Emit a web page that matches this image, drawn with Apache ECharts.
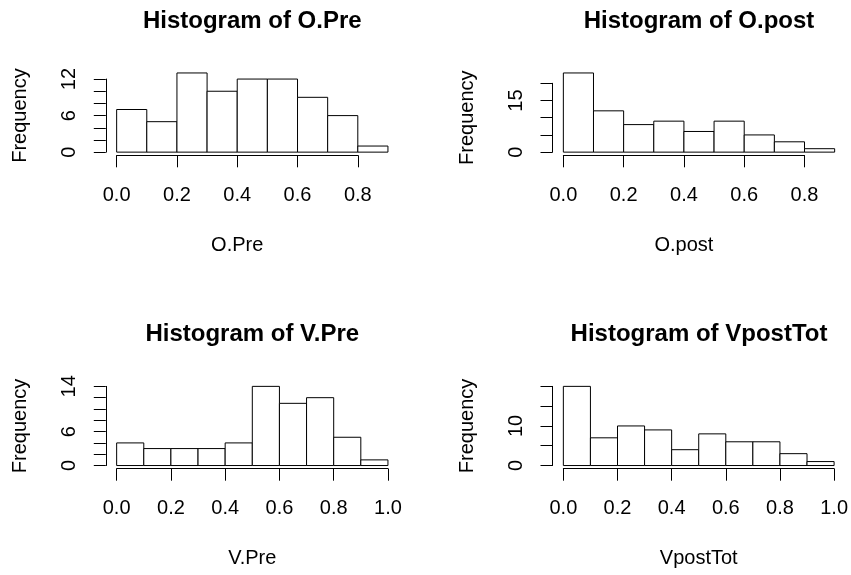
<!DOCTYPE html>
<html><head><meta charset="utf-8">
<script src="https://cdn.jsdelivr.net/npm/echarts@6/dist/echarts.min.js"></script>
<style>html,body{margin:0;padding:0;background:#fff}#c{width:851px;height:575px}</style>
</head><body><div id="c"></div>
<script>
// ---- data ----
const oPreBreaks = [0, 0.1, 0.2, 0.3, 0.4, 0.5, 0.6, 0.7, 0.8, 0.9];
const oPreCounts = [7, 5, 13, 10, 12, 12, 9, 6, 1];
const oPostBreaks = [0, 0.1, 0.2, 0.3, 0.4, 0.5, 0.6, 0.7, 0.8, 0.9];
const oPostCounts = [23, 12, 8, 9, 6, 9, 5, 3, 1];
const vPreBreaks = [0, 0.1, 0.2, 0.3, 0.4, 0.5, 0.6, 0.7, 0.8, 0.9, 1.0];
const vPreCounts = [4, 3, 3, 3, 4, 14, 11, 12, 5, 1];
const vPostTotBreaks = [0, 0.1, 0.2, 0.3, 0.4, 0.5, 0.6, 0.7, 0.8, 0.9, 1.0];
const vPostTotCounts = [20, 7, 10, 9, 4, 8, 6, 6, 3, 1];
const oPreYLabels = [0, 6, 12];
const oPostYLabels = [0, 15];
const vPreYLabels = [0, 6, 14];
const vPostTotYLabels = [0, 10];

// ---- layout (R-style plot regions) ----
const FONT = "'Liberation Sans', Arial, Helvetica, sans-serif";
const PLOT_W = 293, PLOT_H = 85.5;
const panels = [
  {name: 'O.Pre', breaks: oPreBreaks, counts: oPreCounts, xLast: 0.8, yTop: 12, yInt: 2, yLabels: oPreYLabels, left: 105.8, top: 69.8, titleTop: 9},
  {name: 'O.post', breaks: oPostBreaks, counts: oPostCounts, xLast: 0.8, yTop: 20, yInt: 5, yLabels: oPostYLabels, left: 552.5, top: 69.8, titleTop: 9},
  {name: 'V.Pre', breaks: vPreBreaks, counts: vPreCounts, xLast: 1.0, yTop: 14, yInt: 2, yLabels: vPreYLabels, left: 105.8, top: 383.2, titleTop: 322.5},
  {name: 'VpostTot', breaks: vPostTotBreaks, counts: vPostTotCounts, xLast: 1.0, yTop: 20, yInt: 5, yLabels: vPostTotYLabels, left: 552.5, top: 383.2, titleTop: 322.5}
];

const grid = [], xAxis = [], yAxis = [], series = [], title = [];
panels.forEach((p, i) => {
  const xmax = p.breaks[p.breaks.length - 1];
  const ymax = Math.max.apply(null, p.counts);
  const perX = PLOT_W / (1.08 * xmax);
  const perY = PLOT_H / (1.08 * ymax);
  const x0 = p.left + 0.04 * xmax * perX;
  const y0 = p.top + PLOT_H - 0.04 * ymax * perY;
  const offX = 0.04 * ymax * perY;
  const offY = 0.04 * xmax * perX;
  grid.push({left: x0, top: y0 - p.yTop * perY, width: p.xLast * perX, height: p.yTop * perY, containLabel: false});
  xAxis.push({
    type: 'value', gridIndex: i, min: 0, max: p.xLast, interval: 0.2, offset: offX,
    name: p.name, nameLocation: 'middle', nameGap: 80,
    nameTextStyle: {fontFamily: FONT, fontSize: 20, color: '#000'},
    axisLine: {show: true, onZero: false, lineStyle: {color: '#000', width: 1}},
    axisTick: {show: true, length: 12, lineStyle: {color: '#000', width: 1}},
    axisLabel: {show: true, margin: 30, fontFamily: FONT, fontSize: 20, color: '#000', formatter: v => v.toFixed(1)},
    splitLine: {show: false}
  });
  const labs = p.yLabels;
  yAxis.push({
    type: 'value', gridIndex: i, min: 0, max: p.yTop, interval: p.yInt, offset: offY,
    name: 'Frequency', nameLocation: 'middle', nameGap: 75,
    nameTextStyle: {fontFamily: FONT, fontSize: 20, color: '#000'},
    axisLine: {show: true, onZero: false, lineStyle: {color: '#000', width: 1}},
    axisTick: {show: true, length: 12, lineStyle: {color: '#000', width: 1}},
    axisLabel: {show: true, rotate: 90, margin: 26, fontFamily: FONT, fontSize: 20, color: '#000',
      formatter: v => labs.indexOf(v) >= 0 ? String(v) : ''},
    splitLine: {show: false}
  });
  const data = p.counts.map((c, k) => [p.breaks[k], p.breaks[k + 1], c]);
  series.push({
    type: 'custom', xAxisIndex: i, yAxisIndex: i, clip: false, silent: true,
    encode: {x: [0, 1], y: 2},
    data: data,
    renderItem: function (params, api) {
      const a = api.coord([api.value(0), 0]);
      const b = api.coord([api.value(1), api.value(2)]);
      return {type: 'rect', shape: {x: a[0], y: b[1], width: b[0] - a[0], height: a[1] - b[1]},
        style: {fill: '#fff', stroke: '#000', lineWidth: 1}};
    }
  });
  title.push({
    text: 'Histogram of ' + p.name, left: p.left + PLOT_W / 2, top: p.titleTop, textAlign: 'center', padding: 0,
    textStyle: {fontFamily: FONT, fontSize: 24, fontWeight: 'bold', color: '#000'}
  });
});

const chart = echarts.init(document.getElementById('c'), null, {renderer: 'canvas'});
chart.setOption({animation: false, backgroundColor: '#fff', title, grid, xAxis, yAxis, series});
</script>
</body></html>
